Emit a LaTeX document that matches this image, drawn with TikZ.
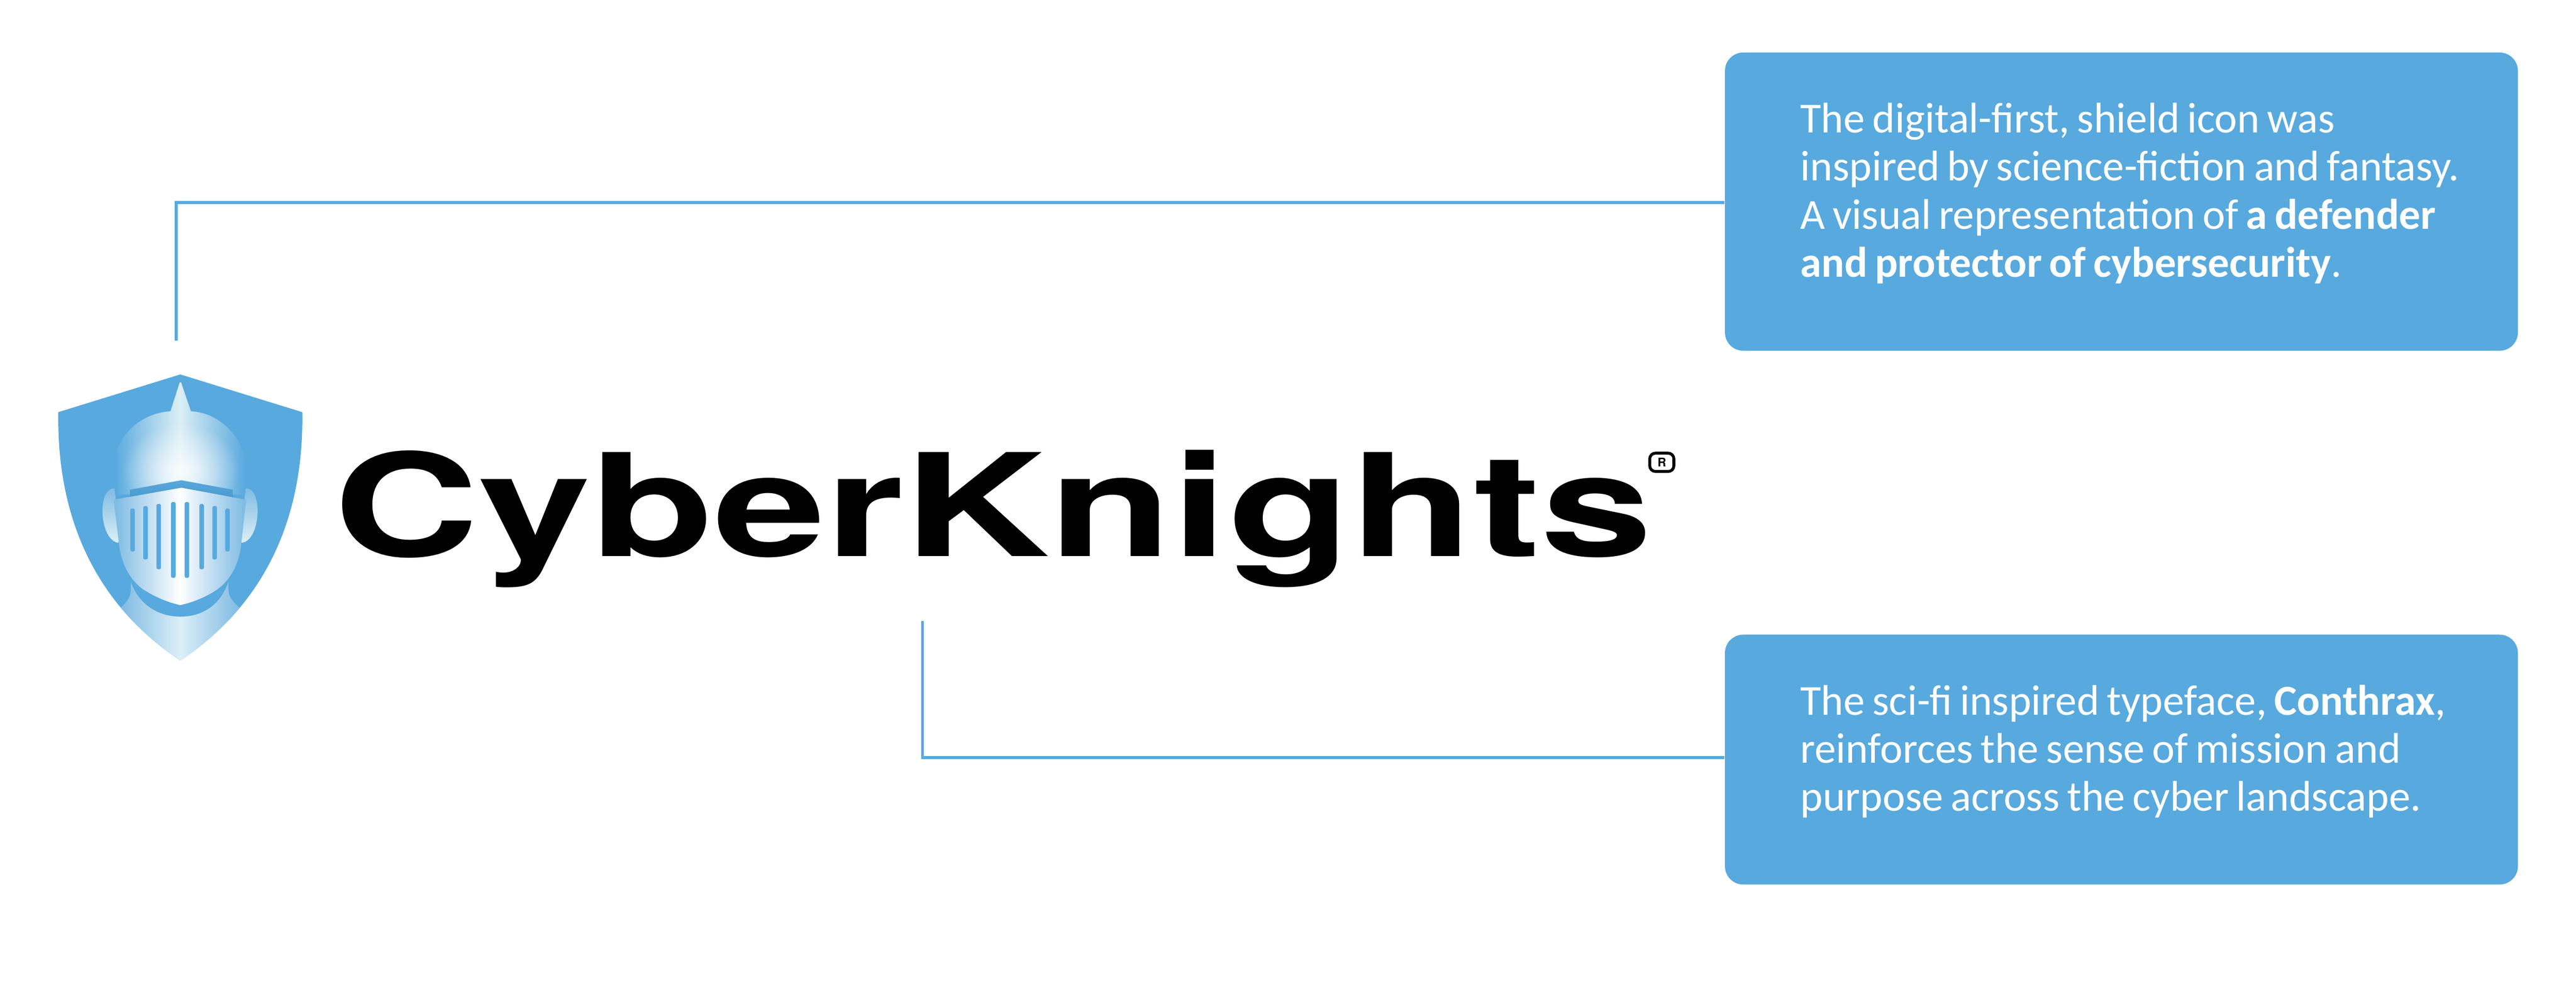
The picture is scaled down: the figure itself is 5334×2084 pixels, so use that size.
\documentclass[tikz,border=0pt]{standalone}
\usepackage{fontspec}
\setmainfont{Carlito}
\newfontfamily\wordfont{TeX Gyre Heros}
\usetikzlibrary{fadings}
\definecolor{knightblue}{HTML}{58A9DE}
\definecolor{visorblue}{HTML}{4C9ACD}
\definecolor{paleblue}{HTML}{DCEFF6}
\definecolor{faceedge}{HTML}{7DBAE3}
\tikzfading[name=softglow, inner color=transparent!0, outer color=transparent!100]
\tikzset{
	notebox/.style={fill=knightblue, rounded corners=0.38cm, text=white, minimum width=16.41cm, anchor=north west, inner xsep=0pt, text width=13.29cm, align=left, font=\fontsize{25.2}{28.3}\selectfont, execute at begin node={\spaceskip=0.175em}},
	leader/.style={draw=knightblue, line width=1.7pt},
	slot/.style={fill=knightblue, rounded corners=1pt}
}
\begin{document}
\begin{tikzpicture}[x=0.01cm, y=-0.01cm]
	\useasboundingbox (0,0) rectangle (5334,2084);
	% Nodes
	\node[notebox, minimum height=6.17cm] (topnote) at (3571,108) {\mbox{The digital-first, shield icon was}\\\mbox{inspired by science-fiction and fantasy.}\\\mbox{A visual representation of \textbf{a defender}}\\\mbox{\textbf{and protector of cybersecurity}.}\par\vspace*{0.34cm}};
	\node[notebox, minimum height=5.17cm] (bottomnote) at (3571,1313) {\mbox{The sci-fi inspired typeface, \textbf{Conthrax},}\\\mbox{reinforces the sense of mission and}\\\mbox{purpose across the cyber landscape.}\par\vspace*{0.34cm}};
	\node[anchor=base west, inner sep=0pt, transform shape, xscale=1.41, font=\wordfont\bfseries\fontsize{84}{84}\selectfont] (wordmark) at (690,1152) {CyberKnights};
	\node[draw=black, line width=1.7pt, rounded corners=0.12cm, inner sep=0pt, minimum width=0.5cm, minimum height=0.38cm, font=\wordfont\bfseries\fontsize{7}{7}\selectfont] (regmark) at (3441,957) {R};
	\coordinate (iconend) at (365,705);
	\coordinate (iconbend) at (365,419);
	\coordinate (wordend) at (1910,1286);
	\coordinate (wordbend) at (1910,1568);
	% Leader lines
	\draw[leader] (iconend) -- (iconbend) -- (topnote.west |- iconbend);
	\draw[leader] (wordend) -- (wordbend) -- (bottomnote.west |- wordbend);
	% Shield
	\begin{scope}[shift={(60,720)}, xscale=0.408, yscale=0.4337]
		\fill[knightblue] (768,127) -- (1387,307) .. controls (1396,800) and (1206,1220) .. (768,1492) .. controls (330,1220) and (140,800) .. (149,307) -- cycle;
		% Neck
		\begin{scope}
			\clip (768,127) -- (1387,307) .. controls (1396,800) and (1206,1220) .. (768,1492) .. controls (330,1220) and (140,800) .. (149,307) -- cycle;
			\shade[left color=faceedge, right color=faceedge, middle color=paleblue] (517,1118) .. controls (560,1230) and (660,1283) .. (768,1283) .. controls (880,1283) and (970,1230) .. (1012,1118) .. controls (1012,1170) and (1005,1190) .. (1075,1245) -- (1075,1500) -- (460,1500) -- (460,1245) .. controls (525,1190) and (517,1170) .. (517,1118) -- cycle;
		\end{scope}
		% Ears
		\shade[top color=faceedge, bottom color=paleblue] (436,672) .. controls (395,665) and (373,720) .. (373,780) .. controls (373,860) and (410,930) .. (456,930) -- cycle;
		\shade[top color=faceedge, bottom color=paleblue] (1098,672) .. controls (1140,665) and (1160,720) .. (1160,780) .. controls (1160,860) and (1125,930) .. (1078,930) -- cycle;
		% Helmet
		\shade[left color=knightblue, right color=knightblue, middle color=paleblue] (436,700) -- (430,580) .. controls (430,420) and (570,310) .. (718,303) -- (765,165) -- (772,165) -- (822,303) .. controls (970,310) and (1100,430) .. (1100,580) -- (1098,700) -- cycle;
		\fill[white, path fading=softglow, fill opacity=0.85] (770,590) ellipse [x radius=300, y radius=230];
		% Visor
		\shade[top color=knightblue, bottom color=visorblue] (513,677) -- (773,632) -- (1033,677) -- (1033,713) -- (773,668) -- (512,713) -- cycle;
		\shade[left color=faceedge, right color=faceedge, middle color=white] (430,725) -- (773,668) -- (1102,725) -- (1078,930) .. controls (1070,1020) and (1030,1100) .. (960,1150) .. controls (900,1190) and (830,1215) .. (768,1228) .. controls (705,1215) and (640,1190) .. (575,1150) .. controls (505,1100) and (465,1020) .. (456,930) -- cycle;
		\foreach \xa/\ya/\yb in {514/767/972, 580/755/1010, 647/745/1057, 721/736/1098, 790/736/1098, 865/745/1057, 931/755/1010, 996/767/972} {
			\fill[slot] (\xa,\ya) rectangle ({\xa+23},\yb);
		}
	\end{scope}
\end{tikzpicture}
\end{document}
